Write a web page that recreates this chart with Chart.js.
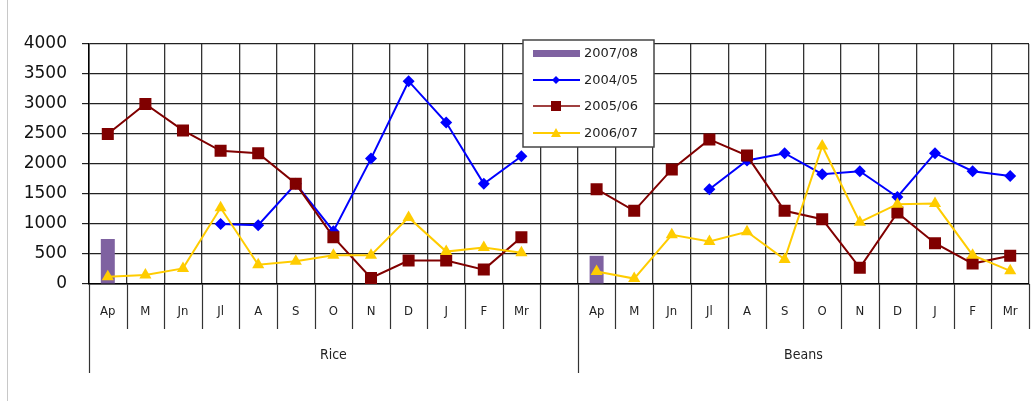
<!DOCTYPE html>
<html>
<head>
<meta charset="utf-8">
<script src="https://cdn.jsdelivr.net/npm/chart.js@4.4.0/dist/chart.umd.min.js"></script>
<style>
  html, body { margin: 0; padding: 0; background: #fff; }
  #wrap { width: 1031px; height: 401px; position: relative; }
</style>
</head>
<body>
<div id="wrap"><canvas id="myChart" width="1031" height="401"></canvas></div>
<script>
const months = ['Ap', 'M', 'Jn', 'Jl', 'A', 'S', 'O', 'N', 'D', 'J', 'F', 'Mr'];
const groups = ['Rice', 'Beans'];
const yTicks = [0, 500, 1000, 1500, 2000, 2500, 3000, 3500, 4000];

const rice0708 = [750, null, null, null, null, null, null, null, null, null, null, null];
const beans0708 = [470, null, null, null, null, null, null, null, null, null, null, null];

const rice0405 = [null, null, null, 1000, 980, 1670, 880, 2090, 3380, 2690, 1670, 2130];
const beans0405 = [null, null, null, 1580, 2060, 2180, 1830, 1880, 1450, 2180, 1880, 1800];

const rice0506 = [2500, 3000, 2560, 2220, 2180, 1670, 780, 100, 390, 390, 240, 780];
const beans0506 = [1580, 1220, 1910, 2410, 2140, 1220, 1080, 270, 1190, 680, 340, 470];

const rice0607 = [120, 150, 260, 1270, 320, 380, 480, 480, 1110, 540, 610, 520];
const beans0607 = [210, 90, 820, 710, 870, 410, 2300, 1030, 1330, 1340, 480, 220];

// one empty slot between the two groups
const labels = [...months, '', ...months];
const join = (a, b) => [...a, null, ...b];

const seriesNames = ['2007/08', '2004/05', '2005/06', '2006/07'];
const colors = ['#7f62a1', '#0000ff', '#800000', '#ffcc00'];

const groupAxis = {
  id: 'groupAxis',
  afterDraw(chart) {
    const ctx = chart.ctx;
    const a = chart.chartArea;
    const n = labels.length;
    const w = (a.right - a.left) / n;
    ctx.save();
    // outer frame line on the left
    ctx.strokeStyle = '#c8c8c8';
    ctx.lineWidth = 1;
    ctx.beginPath();
    ctx.moveTo(7.5, 0);
    ctx.lineTo(7.5, 401);
    ctx.stroke();

    ctx.strokeStyle = '#333';
    ctx.lineWidth = 1.2;
    for (let i = 0; i <= n; i++) {
      const x = Math.round(a.left + i * w) + 0.5;
      const long = (i === 0 || i === months.length + 1);
      ctx.beginPath();
      ctx.moveTo(x, a.bottom);
      ctx.lineTo(x, long ? a.bottom + 89 : a.bottom + 45);
      ctx.stroke();
    }
    ctx.fillStyle = '#222';
    ctx.font = '14px "DejaVu Sans Condensed", "DejaVu Sans", sans-serif';
    ctx.textAlign = 'center';
    ctx.textBaseline = 'middle';
    const rx = a.left + (months.length + 1) * w / 2;
    const bx = a.left + (months.length + 1) * w + months.length * w / 2;
    ctx.fillText(groups[0], rx, a.bottom + 71);
    ctx.fillText(groups[1], bx, a.bottom + 71);

    // legend box
    const lx = 523, ly = 40, lw = 131, lh = 107;
    ctx.fillStyle = '#fff';
    ctx.fillRect(lx, ly, lw, lh);
    ctx.strokeStyle = '#444';
    ctx.lineWidth = 1.5;
    ctx.strokeRect(lx, ly, lw, lh);
    ctx.font = '13px "DejaVu Sans", sans-serif';
    ctx.textAlign = 'left';
    const rows = [53, 80, 106, 133];
    rows.forEach((y, i) => {
      if (i === 0) {
        ctx.fillStyle = colors[0];
        ctx.fillRect(533, y - 3, 47, 7);
      } else {
        ctx.strokeStyle = colors[i];
        ctx.lineWidth = i === 2 ? 1.5 : 2;
        ctx.beginPath();
        ctx.moveTo(533, y);
        ctx.lineTo(580, y);
        ctx.stroke();
        ctx.fillStyle = colors[i];
        ctx.beginPath();
        if (i === 1) {
          ctx.moveTo(556, y - 4); ctx.lineTo(560, y); ctx.lineTo(556, y + 4); ctx.lineTo(552, y);
        } else if (i === 2) {
          ctx.rect(551, y - 5, 10, 10);
        } else {
          ctx.moveTo(556, y - 5); ctx.lineTo(561, y + 4); ctx.lineTo(551, y + 4);
        }
        ctx.closePath();
        ctx.fill();
      }
      ctx.fillStyle = '#222';
      ctx.fillText(seriesNames[i], 584, y + 1);
    });
    ctx.restore();
  }
};

const ctx = document.getElementById('myChart');

new Chart(ctx, {
  type: 'bar',
  data: {
    labels: labels,
    datasets: [
      {
        type: 'bar',
        label: seriesNames[0],
        data: join(rice0708, beans0708),
        backgroundColor: colors[0],
        barPercentage: 0.4,
        categoryPercentage: 0.93,
        order: 10
      },
      {
        type: 'line',
        label: seriesNames[1],
        data: join(rice0405, beans0405),
        borderColor: colors[1],
        backgroundColor: colors[1],
        borderWidth: 2,
        pointStyle: 'rectRot',
        pointRadius: 6,
        pointBorderWidth: 0,
        spanGaps: false,
        order: 3
      },
      {
        type: 'line',
        label: seriesNames[2],
        data: join(rice0506, beans0506),
        borderColor: colors[2],
        backgroundColor: colors[2],
        borderWidth: 2,
        pointStyle: 'rect',
        pointRadius: 8.5,
        pointBorderWidth: 0,
        spanGaps: false,
        order: 2
      },
      {
        type: 'line',
        label: seriesNames[3],
        data: join(rice0607, beans0607),
        borderColor: colors[3],
        backgroundColor: colors[3],
        borderWidth: 2,
        pointStyle: 'triangle',
        pointRadius: 7,
        pointBorderWidth: 0,
        spanGaps: false,
        order: 1
      }
    ]
  },
  options: {
    responsive: false,
    animation: false,
    layout: { autoPadding: false, padding: { top: 44, left: 0, right: 2, bottom: 0 } },
    plugins: {
      legend: { display: false },
      tooltip: { enabled: false }
    },
    scales: {
      x: {
        offset: true,
        grid: { offset: true, color: '#333', lineWidth: 1.3, drawTicks: false },
        border: { display: true, color: '#000', width: 1.5 },
        ticks: {
          padding: 20,
          autoSkip: false,
          maxRotation: 0,
          color: '#222',
          font: { family: '"DejaVu Sans Condensed", "DejaVu Sans", sans-serif', size: 13 }
        },
        afterFit(scale) {
          scale.height = 117;
          scale.paddingLeft = 0;
          scale.paddingRight = 0;
        }
      },
      y: {
        min: 0,
        max: 4000,
        afterBuildTicks(scale) { scale.ticks = yTicks.map(v => ({ value: v })); },
        grid: { color: '#222', lineWidth: 1.2, tickLength: 7 },
        border: { display: true, color: '#000', width: 1.5 },
        ticks: {
          padding: 15,
          color: '#111',
          callback: v => String(v),
          font: { family: '"DejaVu Sans", sans-serif', size: 17 }
        },
        afterFit(scale) { scale.width = 89; }
      }
    }
  },
  plugins: [groupAxis]
});
</script>
</body>
</html>
